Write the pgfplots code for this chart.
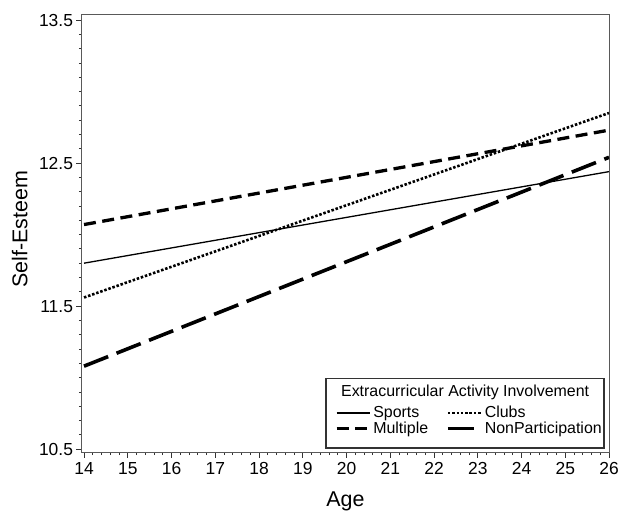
\documentclass[border=0pt]{standalone}
\usepackage{pgfplots}
\pgfplotsset{compat=1.18}
\usepackage{fontspec}
\setmainfont{Liberation Sans}
\newcommand\tkfont{\fontsize{17.5}{20}\selectfont}
\begin{document}
\begin{tikzpicture}
\useasboundingbox (-82bp,-60bp) rectangle (536bp,452bp);
\begin{axis}[
  scale only axis, width=527bp, height=437bp,
  xmin=13.954, xmax=26, ymin=10.48, ymax=13.535,
  xtick={14,15,...,26}, ytick={10.5,11.5,12.5,13.5},
  minor x tick num=4, minor y tick num=9,
  tick align=outside, xtick pos=bottom, ytick pos=left,
  major tick length=5.5bp, minor tick length=3bp,
  axis line style={black!65, line width=1bp},
  tick style={black!80, line width=0.8bp},
  /pgf/number format/assume math mode=true,
  xticklabel={\tkfont\pgfmathprintnumber{\tick}},
  yticklabel={\tkfont\pgfmathprintnumber[fixed, fixed zerofill, precision=1]{\tick}},
  xticklabel style={yshift=-1bp},
  xlabel={Age}, ylabel={Self-Esteem},
  xlabel style={font=\fontsize{21.5}{24}\selectfont, at={(axis description cs:0.5,-0.114)}, anchor=center},
  ylabel style={font=\fontsize{21.5}{24}\selectfont, at={(axis description cs:-0.118,0.51)}, anchor=center},
  legend columns=2,
  legend cell align=left,
  legend style={draw=none, fill=none, at={(0.474,0.114)}, anchor=north west,
    font=\fontsize{16}{18}\selectfont,
    /tikz/every even column/.append style={column sep=16bp}, row sep=-1.5bp},
  legend image code/.code={\draw[#1] (0bp,0bp) -- (33bp,0bp);},
]
\addplot[black, line width=1.3bp] coordinates {(14,11.80) (26,12.44)};
\addlegendentry{Sports}
\addplot[black, line width=2.6bp, dash pattern=on 2.5bp off 1.8bp] coordinates {(14,11.56) (26,12.85)};
\addlegendentry{Clubs}
\addplot[black, line width=3.3bp, dash pattern=on 12bp off 6.5bp] coordinates {(14,12.07) (26,12.73)};
\addlegendentry{Multiple}
\addplot[black, line width=3.6bp, dash pattern=on 26bp off 9bp] coordinates {(14,11.08) (26,12.54)};
\addlegendentry{NonParticipation}
\draw[black!80, line width=1.2bp] (rel axis cs:0.463,0.009) rectangle (rel axis cs:0.9905,0.169);
\node[font=\fontsize{16}{18}\selectfont] at (rel axis cs:0.727,0.137) {Extracurricular Activity Involvement};
\end{axis}
\end{tikzpicture}
\end{document}
